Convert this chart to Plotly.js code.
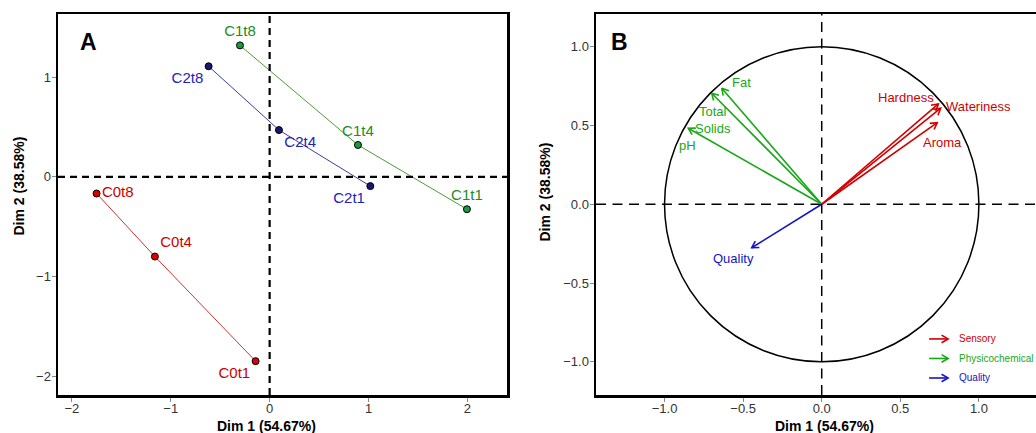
<!DOCTYPE html>
<html>
<head>
<meta charset="utf-8">
<script src="https://cdn.plot.ly/plotly-3.0.1.min.js"></script>
<style>
html,body{margin:0;padding:0;overflow:hidden;background:#fff;}
#chart{width:1056px;height:433px;}
</style>
</head>
<body>
<div id="chart"></div>
<script>
// ---------- Panel A: individuals ----------
var groupNames = ["C0", "C1", "C2"];
var timeLabels = ["t1", "t4", "t8"];
var c0X = [-0.142, -1.16, -1.75];
var c0Y = [-1.85, -0.80, -0.167];
var c1X = [1.995, 0.893, -0.30];
var c1Y = [-0.325, 0.32, 1.32];
var c2X = [1.018, 0.094, -0.617];
var c2Y = [-0.093, 0.47, 1.11];

// ---------- Panel B: variables ----------
var varNames = ["Fat", "Total<br>Solids", "pH", "Hardness", "Wateriness", "Aroma", "Quality"];
var varGroup = ["Physicochemical", "Physicochemical", "Physicochemical", "Sensory", "Sensory", "Sensory", "Quality"];
var varDim1 = [-0.636, -0.700, -0.849, 0.742, 0.757, 0.735, -0.445];
var varDim2 = [0.737, 0.705, 0.483, 0.637, 0.610, 0.518, -0.276];
var labelDim1 = [-0.509, -0.691, -0.857, 0.539, 0.999, 0.768, -0.564];
var labelDim2 = [0.773, 0.535, 0.370, 0.675, 0.621, 0.392, -0.347];
var legendGroups = ["Sensory", "Physicochemical", "Quality"];

var W = 1056, H = 433;
function px(v){ return v / W; }
function py(v){ return 1 - v / H; }

var FONT = "Liberation Sans, Arial, sans-serif";
var groupStyle = {
  C0: {line: "#cc3333", marker: "#dd0000", text: "#cc0000",
       pos: ["bottom left", "top right", "middle right"]},
  C1: {line: "#4f9a35", marker: "#1a9a40", text: "#228b22",
       pos: ["top center", "top center", "top center"]},
  C2: {line: "#3d3d9a", marker: "#181870", text: "#2222bb",
       pos: ["bottom left", "bottom right", "bottom left"]}
};
var varColor = {Sensory: "#d00000", Physicochemical: "#18a818", Quality: "#1414c8"};

var traces = [];
var gx = [c0X, c1X, c2X], gy = [c0Y, c1Y, c2Y];
groupNames.forEach(function(g, i){
  var st = groupStyle[g];
  traces.push({
    type: "scatter", mode: "lines+markers+text",
    x: gx[i], y: gy[i], xaxis: "x", yaxis: "y",
    text: timeLabels.map(function(t){ return g + t; }),
    textposition: st.pos,
    textfont: {family: FONT, size: 15, color: st.text},
    line: {color: st.line, width: 1},
    marker: {size: 7, color: st.marker, line: {color: "#000", width: 1}},
    hoverinfo: "skip", showlegend: false, cliponaxis: false
  });
});

// arrows in panel B: shaft + open head (30 deg half-angle)
var headLen = 0.048, headAng = 30 * Math.PI / 180;
function arrowTrace(x0, y0, x1, y1, color, width){
  var a = Math.atan2(y1 - y0, x1 - x0);
  var w1x = x1 - headLen * Math.cos(a - headAng), w1y = y1 - headLen * Math.sin(a - headAng);
  var w2x = x1 - headLen * Math.cos(a + headAng), w2y = y1 - headLen * Math.sin(a + headAng);
  return {
    type: "scatter", mode: "lines", xaxis: "x2", yaxis: "y2",
    x: [x0, x1, null, w1x, x1, w2x],
    y: [y0, y1, null, w1y, y1, w2y],
    line: {color: color, width: width}, hoverinfo: "skip", showlegend: false
  };
}
varNames.forEach(function(n, i){
  traces.push(arrowTrace(0, 0, varDim1[i], varDim2[i], varColor[varGroup[i]], 1.6));
});

// legend for panel B (arrow keys)
var legX0 = 0.683, legX1 = 0.804, legTextX = 0.862, legY0 = -0.855, legStep = -0.124;
legendGroups.forEach(function(g, i){
  var yy = legY0 + i * legStep;
  traces.push(arrowTrace(legX0, yy, legX1, yy, varColor[g], 1.6));
});

var annotations = [];
varNames.forEach(function(n, i){
  annotations.push({
    xref: "x2", yref: "y2", x: labelDim1[i], y: labelDim2[i],
    text: n, showarrow: false, xanchor: "center", yanchor: "middle",
    font: {family: FONT, size: 13, color: varColor[varGroup[i]]}
  });
});
legendGroups.forEach(function(g, i){
  annotations.push({
    xref: "x2", yref: "y2", x: legTextX, y: legY0 + i * legStep,
    text: g, showarrow: false, xanchor: "left", yanchor: "middle",
    font: {family: FONT, size: 10, color: varColor[g]}
  });
});
annotations.push({xref: "paper", yref: "paper", x: px(88), y: py(42), text: "<b>A</b>",
  showarrow: false, xanchor: "center", yanchor: "middle", font: {family: FONT, size: 23, color: "#000"}});
annotations.push({xref: "paper", yref: "paper", x: px(619), y: py(42), text: "<b>B</b>",
  showarrow: false, xanchor: "center", yanchor: "middle", font: {family: FONT, size: 23, color: "#000"}});
var xTitle = "<b>Dim 1 (54.67%)</b>", yTitle = "<b>Dim 2 (38.58%)</b>";
var titleFont = {family: FONT, size: 14, color: "#000"};
annotations.push({xref: "paper", yref: "paper", x: px(266), y: py(426), text: xTitle,
  showarrow: false, xanchor: "center", yanchor: "middle", font: titleFont});
annotations.push({xref: "paper", yref: "paper", x: px(824), y: py(426), text: xTitle,
  showarrow: false, xanchor: "center", yanchor: "middle", font: titleFont});
annotations.push({xref: "paper", yref: "paper", x: px(18.5), y: py(186), text: yTitle, textangle: -90,
  showarrow: false, xanchor: "center", yanchor: "middle", font: titleFont});
annotations.push({xref: "paper", yref: "paper", x: px(544.5), y: py(192), text: yTitle, textangle: -90,
  showarrow: false, xanchor: "center", yanchor: "middle", font: titleFont});

var shapes = [
  {type: "line", xref: "x", yref: "y domain", x0: 0, x1: 0, y0: 0, y1: 1,
   line: {color: "#000", width: 2.2, dash: "7px,5px"}, layer: "above"},
  {type: "line", xref: "x domain", yref: "y", x0: 0, x1: 1, y0: 0, y1: 0,
   line: {color: "#000", width: 2.2, dash: "7px,5px"}, layer: "above"},
  {type: "line", xref: "x2", yref: "y2 domain", x0: 0, x1: 0, y0: 0, y1: 1,
   line: {color: "#000", width: 1.5, dash: "10px,6.5px"}, layer: "below"},
  {type: "line", xref: "x2 domain", yref: "y2", x0: 0, x1: 1, y0: 0, y1: 0,
   line: {color: "#000", width: 1.5, dash: "10px,6.5px"}, layer: "below"},
  {type: "circle", xref: "x2", yref: "y2", x0: -1, y0: -1, x1: 1, y1: 1,
   line: {color: "#000", width: 1.5}, layer: "below"}
];

function axisBase(){
  return {
    showgrid: false, zeroline: false, showline: true, mirror: true,
    linecolor: "#000", linewidth: 2.5, ticks: "outside", ticklen: 4, tickwidth: 1,
    tickcolor: "#888", tickfont: {family: FONT, size: 13, color: "#333"},
    fixedrange: true
  };
}
var xa = Object.assign(axisBase(), {domain: [px(58), px(507)], range: [-2.14, 2.40], dtick: 1, tick0: 0, anchor: "y", ticklabelstandoff: -4});
var ya = Object.assign(axisBase(), {domain: [py(395), py(14)], range: [-2.19, 1.635], dtick: 1, tick0: 0, anchor: "x", ticklabelstandoff: -2});
var xb = Object.assign(axisBase(), {domain: [px(596), px(1052)], range: [-1.436, 1.465], dtick: 0.5, tick0: 0, tickformat: ".1f", anchor: "y2", ticklabelstandoff: -4});
var yb = Object.assign(axisBase(), {domain: [py(395), py(14)], range: [-1.211, 1.208], dtick: 0.5, tick0: 0, tickformat: ".1f", anchor: "x2", ticklabelstandoff: -2});

var layout = {
  width: W, height: H, margin: {l: 0, r: 0, t: 0, b: 0},
  paper_bgcolor: "#fff", plot_bgcolor: "#fff",
  showlegend: false,
  xaxis: xa, yaxis: ya, xaxis2: xb, yaxis2: yb,
  shapes: shapes, annotations: annotations,
  font: {family: FONT}
};
Plotly.newPlot("chart", traces, layout, {displayModeBar: false, staticPlot: true});
</script>
</body>
</html>
